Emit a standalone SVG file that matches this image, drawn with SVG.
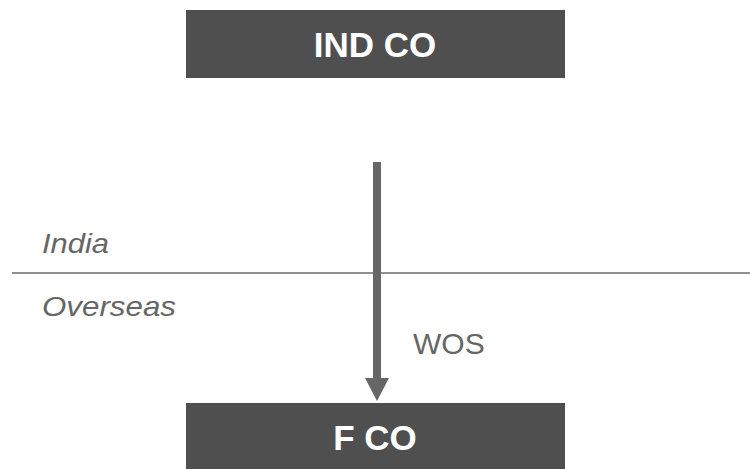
<svg xmlns="http://www.w3.org/2000/svg" width="750" height="469" viewBox="0 0 750 469">
<style>
.box{fill:#4f4f4f}
.btxt{font-family:"Liberation Sans",Arial,sans-serif;font-weight:bold;font-size:35px;fill:#ffffff;text-anchor:middle}
.lbl{font-family:"Liberation Sans",Arial,sans-serif;font-size:28px;fill:#666666;font-style:italic}
.wos{font-family:"Liberation Sans",Arial,sans-serif;font-size:30px;fill:#666666}
</style>
<rect width="750" height="469" fill="#ffffff"/>
<g id="divider">
<line x1="12" y1="273" x2="750" y2="273" stroke="#6b6b6b" stroke-width="1.5"/>
<text class="lbl" x="42" y="252.5" textLength="67" lengthAdjust="spacingAndGlyphs">India</text>
<text class="lbl" x="42" y="315.5" textLength="134" lengthAdjust="spacingAndGlyphs">Overseas</text>
</g>
<g id="ind-co">
<rect class="box" x="186" y="10" width="379" height="68"/>
<text class="btxt" x="375" y="57">IND CO</text>
</g>
<g id="f-co">
<rect class="box" x="186" y="403" width="379" height="66"/>
<text class="btxt" x="375" y="450">F CO</text>
</g>
<g id="connectors">
<rect x="373" y="162" width="8" height="217" fill="#666666"/>
<polygon points="365,378 389,378 377,401" fill="#666666"/>
<text class="wos" x="413" y="354">WOS</text>
</g>
</svg>
